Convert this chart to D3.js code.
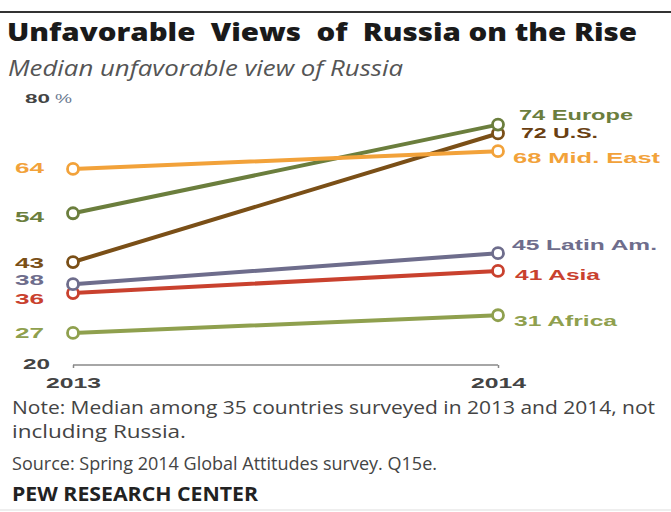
<!DOCTYPE html>
<html>
<head>
<meta charset="utf-8">
<script src="https://cdn.jsdelivr.net/npm/d3@7"></script>
<style>
  html, body { margin: 0; padding: 0; background: #fff; }
  svg { display: block; }
  text { white-space: pre; }
</style>
</head>
<body>
<svg id="chart" width="671" height="512"></svg>
<script>
// ---- data ----
const years = ["2013", "2014"];
const regions = ["Europe", "U.S.", "Mid. East", "Latin Am.", "Asia", "Africa"];
const values2013 = [54, 43, 64, 38, 36, 27];
const values2014 = [74, 72, 68, 45, 41, 31];
const yTickValues = [20, 80];

const titleText = "Unfavorable  Views  of  Russia on the Rise";
const subtitleText = "Median unfavorable view of Russia";
const noteLines = [
  "Note: Median among 35 countries surveyed in 2013 and 2014, not",
  "including Russia."
];
const sourceText = "Source: Spring 2014 Global Attitudes survey. Q15e.";
const creditText = "PEW RESEARCH CENTER";

// ---- styles (layout only) ----
const colors = ["#6b7e3d", "#7a4f17", "#f2a23a", "#6e6d8c", "#c9412e", "#8fa04e"];
const labelColorsRight = ["#6b7e3d", "#6a3f12", "#f2a23a", "#6e6d8c", "#c9412e", "#8fa04e"];
const leftLabelDy = [3, 0, -1, -5, 5, 0];
const rightLabelDy = [-10, -1, 6, -9, 4, 5];
const rightLabelX = [519, 521, 513, 512, 515, 514];
const rightLabelW = [114, 77, 147, 145, 85, 103];

const svg = d3.select("#chart");

// top rule
svg.append("line").attr("x1", 0).attr("x2", 671).attr("y1", 12).attr("y2", 12)
  .attr("stroke", "#333").attr("stroke-width", 2);

// title
svg.append("text").attr("x", 7).attr("y", 41)
  .attr("font-family", "'Open Sans', 'Noto Sans', sans-serif")
  .attr("font-weight", 800).attr("font-size", 24).attr("fill", "#1a1a1a")
  .attr("textLength", 630).attr("lengthAdjust", "spacingAndGlyphs")
  .text(titleText);

svg.append("text").attr("x", 8).attr("y", 76)
  .attr("font-family", "'Open Sans', 'Noto Sans', sans-serif")
  .attr("font-style", "italic").attr("font-weight", 400).attr("font-size", 21).attr("fill", "#555")
  .attr("textLength", 395).attr("lengthAdjust", "spacingAndGlyphs")
  .text(subtitleText);

// scales
const x = d3.scalePoint().domain(years).range([73, 498]);
const y = d3.scaleLinear().domain([20, 80]).range([364, 98]);

const labelFont = "'Liberation Sans', Arial, sans-serif";

// x axis bracket
const axisY = y(20) + 1;
const xAxis = d3.axisBottom(x).tickSize(-3).tickSizeOuter(0).tickFormat("");
svg.append("g").attr("transform", `translate(0,${axisY})`)
  .call(xAxis)
  .call(g => g.select(".domain").remove())
  .call(g => g.selectAll(".tick line").attr("stroke", "#888").attr("stroke-width", 1.5)
    .attr("y1", 0).attr("y2", 3));
svg.append("line").attr("x1", x("2013")).attr("x2", x("2014"))
  .attr("y1", axisY).attr("y2", axisY).attr("stroke", "#888").attr("stroke-width", 1.5);

// x labels
svg.selectAll(".xlab").data(years).enter().append("text")
  .attr("class", "xlab")
  .attr("x", d => x(d) - 27).attr("y", 388)
  .attr("font-family", labelFont).attr("font-weight", 700).attr("font-size", 15)
  .attr("fill", "#444")
  .attr("textLength", 55).attr("lengthAdjust", "spacingAndGlyphs")
  .text(d => d);

// y gray ticks (20, 80 %)
svg.selectAll(".ylab").data(yTickValues).enter().append("text")
  .attr("class", "ylab")
  .attr("x", d => d === 80 ? 25 : 23)
  .attr("y", d => y(d) + 5)
  .attr("font-family", labelFont).attr("font-weight", 700).attr("font-size", d => d === 80 ? 13 : 15)
  .attr("fill", "#444")
  .attr("textLength", d => d === 80 ? 25 : 27).attr("lengthAdjust", "spacingAndGlyphs")
  .text(d => d);
svg.append("text").attr("x", 55).attr("y", y(80) + 5)
  .attr("font-family", labelFont).attr("font-weight", 400).attr("font-size", 13)
  .attr("fill", "#6a7890").attr("textLength", 17).attr("lengthAdjust", "spacingAndGlyphs")
  .text("%");

// lines
const series = regions.map((r, i) => ({ region: r, i, vals: [values2013[i], values2014[i]] }));
const line = d3.line().x((d, j) => x(years[j])).y(d => y(d));

// draw order: back to front
const order = [5, 4, 3, 1, 0, 2];
const g = svg.append("g");
order.forEach(i => {
  const s = series[i];
  g.append("path").datum(s.vals).attr("d", line)
    .attr("fill", "none").attr("stroke", colors[i]).attr("stroke-width", 4)
    .attr("stroke-linecap", "round");
});
order.forEach(i => {
  const s = series[i];
  g.selectAll(null).data(s.vals).enter().append("circle")
    .attr("cx", (d, j) => x(years[j])).attr("cy", d => y(d)).attr("r", 5.5)
    .attr("fill", "#fff").attr("stroke", colors[i]).attr("stroke-width", 2.8);
});

// left labels
svg.selectAll(".llab").data(series).enter().append("text")
  .attr("class", "llab")
  .attr("x", 15).attr("y", d => y(d.vals[0]) + 5.5 + leftLabelDy[d.i])
  .attr("font-family", labelFont).attr("font-weight", 700).attr("font-size", 15)
  .attr("fill", d => colors[d.i])
  .attr("textLength", 29).attr("lengthAdjust", "spacingAndGlyphs")
  .text(d => d.vals[0]);

// right labels
svg.selectAll(".rlab").data(series).enter().append("text")
  .attr("class", "rlab")
  .attr("x", d => rightLabelX[d.i]).attr("y", d => y(d.vals[1]) + 5.5 + rightLabelDy[d.i])
  .attr("font-family", labelFont).attr("font-weight", 700).attr("font-size", 15)
  .attr("fill", d => labelColorsRight[d.i])
  .attr("textLength", d => rightLabelW[d.i]).attr("lengthAdjust", "spacingAndGlyphs")
  .text(d => d.vals[1] + " " + d.region);

// notes
const noteFont = "'Open Sans', 'Noto Sans', sans-serif";
svg.append("text").attr("x", 12).attr("y", 414)
  .attr("font-family", noteFont).attr("font-size", 18).attr("fill", "#444")
  .attr("textLength", 643).attr("lengthAdjust", "spacingAndGlyphs").text(noteLines[0]);
svg.append("text").attr("x", 12).attr("y", 438)
  .attr("font-family", noteFont).attr("font-size", 18).attr("fill", "#444")
  .attr("textLength", 174).attr("lengthAdjust", "spacingAndGlyphs").text(noteLines[1]);
svg.append("text").attr("x", 12).attr("y", 470)
  .attr("font-family", noteFont).attr("font-size", 18).attr("fill", "#444")
  .attr("textLength", 425).attr("lengthAdjust", "spacingAndGlyphs").text(sourceText);
svg.append("text").attr("x", 12).attr("y", 501)
  .attr("font-family", noteFont).attr("font-weight", 700).attr("font-size", 19).attr("fill", "#222")
  .attr("textLength", 246).attr("lengthAdjust", "spacingAndGlyphs").text(creditText);

svg.append("line").attr("x1", 0).attr("x2", 671).attr("y1", 510).attr("y2", 510)
  .attr("stroke", "#ddd").attr("stroke-width", 1);
</script>
</body>
</html>
